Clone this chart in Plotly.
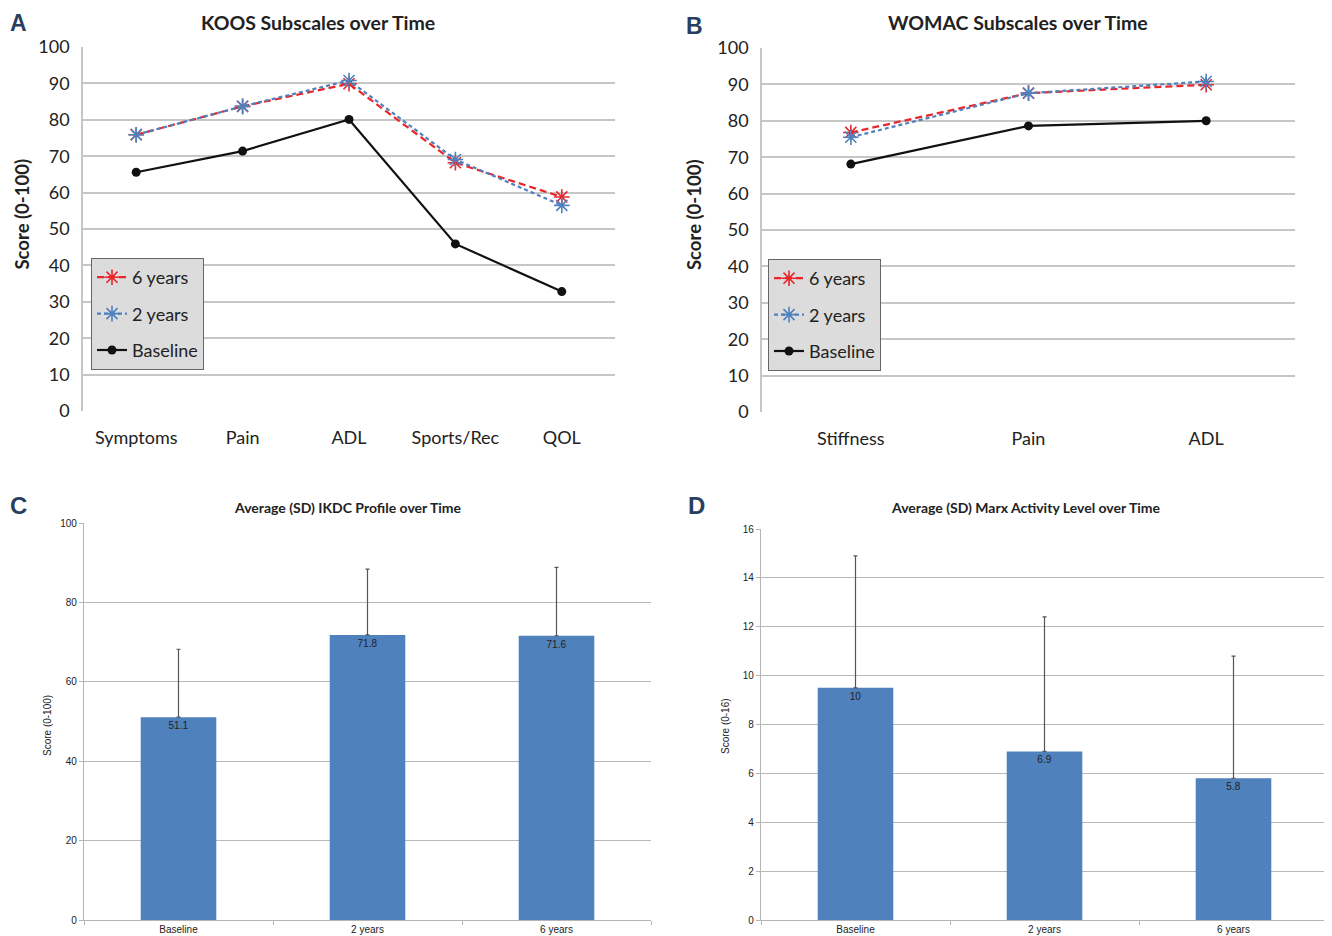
import plotly.graph_objects as go

# ---------------- data ----------------
koos_cats = ["Symptoms", "Pain", "ADL", "Sports/Rec", "QOL"]
koos_6y = [75.9, 83.7, 89.9, 68.2, 58.8]
koos_2y = [75.9, 83.7, 90.8, 69.1, 56.5]
koos_base = [65.6, 71.4, 80.1, 45.9, 32.8]

womac_cats = ["Stiffness", "Pain", "ADL"]
womac_6y = [76.8, 87.6, 89.9]
womac_2y = [75.5, 87.6, 90.8]
womac_base = [68.1, 78.6, 80.0]

time_cats = ["Baseline", "2 years", "6 years"]
ikdc_mean = [51.1, 71.8, 71.6]
ikdc_sd = [17.1, 16.6, 17.2]
ikdc_labels = ["51.1", "71.8", "71.6"]

marx_mean = [9.5, 6.9, 5.8]
marx_sd = [5.4, 5.5, 5.0]
marx_labels = ["10", "6.9", "5.8"]

W, H = 1332, 936
OX, OY = 8, 8  # page body margin offset
RED = "#e8262b"
BLUE = "#4f81bd"
BLACK = "#111111"
BAR = "#4f81bd"
CAL = "Lato, 'Open Sans', sans-serif"
ARIAL = "'Liberation Sans', Arial, sans-serif"


def px_x(p):
    return (p - OX) / W


def px_y(p):
    return 1 - (p - OY) / H


fig = go.Figure()


def add_lines(cats, s6, s2, sb, xa, ya, legend):
    fig.add_trace(go.Scatter(
        x=cats, y=s6, name="6 years", mode="lines+markers",
        line=dict(color=RED, width=2.2, dash="7px,4px"),
        marker=dict(symbol="asterisk-open", size=13, line=dict(color=RED, width=1.6)),
        xaxis=xa, yaxis=ya, legend=legend, legendgroup=legend + "a"))
    fig.add_trace(go.Scatter(
        x=cats, y=s2, name="2 years", mode="lines+markers",
        line=dict(color=BLUE, width=2.2, dash="4px,3px"),
        marker=dict(symbol="asterisk-open", size=13, line=dict(color=BLUE, width=1.6)),
        xaxis=xa, yaxis=ya, legend=legend, legendgroup=legend + "b"))
    fig.add_trace(go.Scatter(
        x=cats, y=sb, name="Baseline", mode="lines+markers",
        line=dict(color=BLACK, width=2.2),
        marker=dict(symbol="circle", size=9, color=BLACK),
        xaxis=xa, yaxis=ya, legend=legend, legendgroup=legend + "c"))


add_lines(koos_cats, koos_6y, koos_2y, koos_base, "x", "y", "legend")
add_lines(womac_cats, womac_6y, womac_2y, womac_base, "x2", "y2", "legend2")


def add_bars(cats, mean, sd, labels, xa, ya):
    fig.add_trace(go.Bar(
        x=cats, y=mean, width=0.4, marker=dict(color=BAR, line=dict(width=0)),
        text=labels, textposition="inside", insidetextanchor="end",
        textfont=dict(family=ARIAL, size=10, color="#222222"),
        error_y=dict(type="data", symmetric=False, array=sd,
                     arrayminus=[0] * len(sd), color="#555555",
                     thickness=1.2, width=2),
        showlegend=False, xaxis=xa, yaxis=ya))


add_bars(time_cats, ikdc_mean, ikdc_sd, ikdc_labels, "x3", "y3")
add_bars(time_cats, marx_mean, marx_sd, marx_labels, "x4", "y4")

grid = "#c6c6c6"
line_x = dict(showgrid=False, showline=False, zeroline=False, ticks="",
              tickfont=dict(family=CAL, size=18, color="#222"),
              ticklabelstandoff=14, fixedrange=True, automargin=False)
line_y = dict(range=[0, 100], dtick=10, showgrid=True, gridcolor=grid,
              gridwidth=1.6, showline=True, linecolor=grid, linewidth=1.6,
              zeroline=False, ticks="",
              tickfont=dict(family=CAL, size=18, color="#222"),
              ticklabelstandoff=8, fixedrange=True, automargin=False)
bar_x = dict(range=[-0.5, 2.5], showline=True, linecolor="#b5b5b5", linewidth=1.2,
             ticks="outside", tickson="boundaries", ticklen=4, tickcolor="#b5b5b5",
             tickfont=dict(family=ARIAL, size=10, color="#222"), fixedrange=True,
             automargin=False)
bar_y = dict(showgrid=True, gridcolor="#b9b9b9", gridwidth=1.2,
             showline=True, linecolor="#b5b5b5", linewidth=1.2, zeroline=False,
             ticks="outside", ticklen=4, tickcolor="#b5b5b5",
             tickfont=dict(family=ARIAL, size=10, color="#222"), fixedrange=True,
             automargin=False)

fig.update_layout(
    width=W, height=H, margin=dict(l=0, r=0, t=0, b=0, autoexpand=False),
    paper_bgcolor="white", plot_bgcolor="white",
    barmode="group",
    xaxis=dict(domain=[px_x(83), px_x(615)], range=[-0.5, 4.5], anchor="y", **line_x),
    yaxis=dict(domain=[px_y(411), px_y(47)], anchor="x", **line_y),
    xaxis2=dict(domain=[px_x(762), px_x(1295)], range=[-0.5, 2.5], anchor="y2", **line_x),
    yaxis2=dict(domain=[px_y(412), px_y(48)], anchor="x2", **line_y),
    xaxis3=dict(domain=[px_x(84), px_x(651)], anchor="y3", **bar_x),
    yaxis3=dict(domain=[px_y(920), px_y(523)], anchor="x3", range=[0, 100], dtick=20, **bar_y),
    xaxis4=dict(domain=[px_x(761), px_x(1328)], anchor="y4", **bar_x),
    yaxis4=dict(domain=[px_y(920), px_y(529)], anchor="x4", range=[0, 16], dtick=2, **bar_y),
    legend=dict(x=px_x(91), y=px_y(258), xanchor="left", yanchor="top",
                bgcolor="#dcdcdc", bordercolor="#666", borderwidth=1,
                font=dict(family=CAL, size=18, color="#222"),
                tracegroupgap=10, itemwidth=30, traceorder="grouped"),
    legend2=dict(x=px_x(768), y=px_y(259), xanchor="left", yanchor="top",
                 bgcolor="#dcdcdc", bordercolor="#666", borderwidth=1,
                 font=dict(family=CAL, size=18, color="#222"),
                 tracegroupgap=10, itemwidth=30, traceorder="grouped"),
)

annos = [
    dict(text="<b>A</b>", x=px_x(8), y=px_y(8.5), font=dict(family=ARIAL, size=23),
         xanchor="left", yanchor="top"),
    dict(text="<b>B</b>", x=px_x(684), y=px_y(11), font=dict(family=ARIAL, size=23),
         xanchor="left", yanchor="top"),
    dict(text="<b>C</b>", x=px_x(8), y=px_y(505), font=dict(family=ARIAL, size=24), xanchor="left"),
    dict(text="<b>D</b>", x=px_x(686), y=px_y(505), font=dict(family=ARIAL, size=24), xanchor="left"),
    dict(text="<b>KOOS Subscales over Time</b>", x=px_x(318), y=px_y(8.5), yanchor="top",
         font=dict(family=CAL, size=19.5, color="#222")),
    dict(text="<b>WOMAC Subscales over Time</b>", x=px_x(1018), y=px_y(8.5), yanchor="top",
         font=dict(family=CAL, size=19.5, color="#222")),
    dict(text="<b>Average (SD) IKDC Profile over Time</b>", x=px_x(348), y=px_y(507),
         font=dict(family=CAL, size=14, color="#222")),
    dict(text="<b>Average (SD) Marx Activity Level over Time</b>", x=px_x(1026), y=px_y(507),
         font=dict(family=CAL, size=14, color="#222")),
    dict(text="<b>Score (0-100)</b>", x=px_x(8.5), y=px_y(215), textangle=-90, xanchor="left",
         font=dict(family=CAL, size=18.5, color="#222")),
    dict(text="<b>Score (0-100)</b>", x=px_x(694), y=px_y(215), textangle=-90,
         font=dict(family=CAL, size=18.5, color="#222")),
    dict(text="Score (0-100)", x=px_x(47), y=px_y(726), textangle=-90,
         font=dict(family=ARIAL, size=10, color="#222")),
    dict(text="Score (0-16)", x=px_x(725), y=px_y(726), textangle=-90,
         font=dict(family=ARIAL, size=10, color="#222")),
]
for a in annos:
    a.setdefault("xanchor", "center")
    a.setdefault("yanchor", "middle")
    a.update(xref="paper", yref="paper", showarrow=False)
    fig.add_annotation(**a)

fig.write_html("out.html")
